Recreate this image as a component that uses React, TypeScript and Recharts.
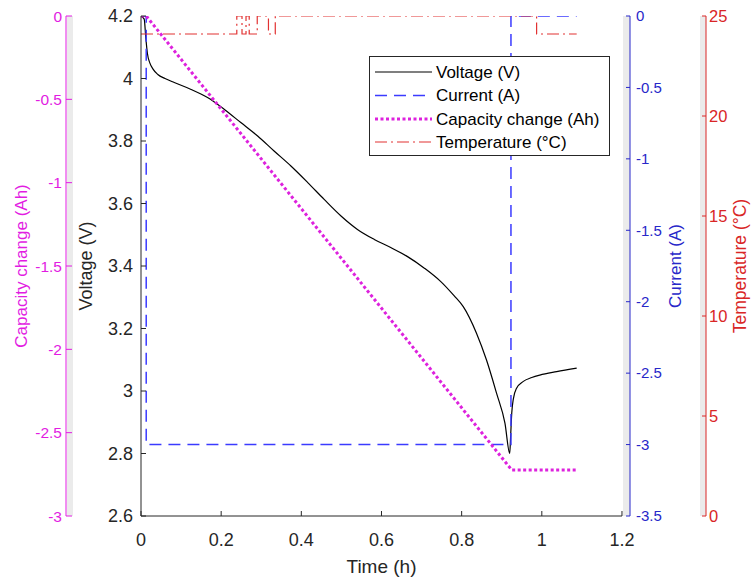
import React from 'react';
import { ComposedChart, Line, XAxis, YAxis, Legend, ReferenceLine } from 'recharts';

const timeTicks = [0, 0.2, 0.4, 0.6, 0.8, 1, 1.2];
const voltageTicks = [2.6, 2.8, 3, 3.2, 3.4, 3.6, 3.8, 4, 4.2];
const currentTicks = [0, -0.5, -1, -1.5, -2, -2.5, -3, -3.5];
const capacityTicks = [0, -0.5, -1, -1.5, -2, -2.5, -3];
const temperatureTicks = [0, 5, 10, 15, 20, 25];

const voltageTime = [0, 0.008, 0.012, 0.016, 0.022, 0.03, 0.042, 0.06, 0.083, 0.125, 0.166, 0.208, 0.249, 0.291, 0.332, 0.374, 0.416, 0.457, 0.499, 0.54, 0.582, 0.623, 0.665, 0.707, 0.748, 0.781, 0.804, 0.837, 0.862, 0.887, 0.908, 0.92, 0.922, 0.925, 0.929, 0.937, 0.953, 0.975, 0.995, 1.037, 1.087];
const voltageValues = [4.2, 4.19, 4.13, 4.08, 4.05, 4.03, 4.013, 4.0, 3.987, 3.965, 3.939, 3.901, 3.859, 3.816, 3.768, 3.72, 3.667, 3.613, 3.56, 3.517, 3.485, 3.459, 3.43, 3.393, 3.35, 3.305, 3.27, 3.185, 3.099, 2.993, 2.897, 2.8, 2.85, 2.93, 2.975, 3.009, 3.03, 3.043, 3.051, 3.062, 3.073];

const currentTime = [0, 0.013, 0.923, 1.087];
const currentValues = [0, -3.0, 0, 0];

const capacityTime = [0, 0.013, 0.925, 1.087];
const capacityValues = [0, 0, -2.724, -2.724];

const temperatureTime = [0, 0.239, 0.252, 0.262, 0.27, 0.29, 0.318, 0.335, 0.987, 1.087];
const temperatureValues = [24.1, 25, 24.1, 25, 24.1, 25, 24.1, 25, 24.1, 24.1];

const FONT = '"Liberation Sans", Arial, Helvetica, sans-serif';
const AXIS_BLACK = '#262626';
const MAGENTA_AXIS = '#e21ce2';
const BLUE_AXIS = '#2727c9';
const RED_AXIS = '#d92626';

const series = [
  { name: 'Voltage (V)', color: '#000000', width: 1.2, dash: undefined as string | undefined },
  { name: 'Current (A)', color: '#3b3bff', width: 1.5, dash: '12 7' },
  { name: 'Capacity change (Ah)', color: '#dd22dd', width: 3, dash: '3 2.5' },
  { name: 'Temperature (°C)', color: '#e23232', width: 1.2, dash: '12 4 2 4' },
];

const toData = (xs: number[], ys: number[]) => xs.map((t, i) => ({ t, v: ys[i] }));
const voltageData = toData(voltageTime, voltageValues);
const currentData = toData(currentTime, currentValues);
const capacityData = toData(capacityTime, capacityValues);
const temperatureData = toData(temperatureTime, temperatureValues);

const vLabel = (text: string, dx: number, color: string, size: number) => (props: any) => {
  const vb = props.viewBox || {};
  const cx = vb.x + dx;
  const cy = vb.y + vb.height / 2;
  return (
    <text
      x={cx}
      y={cy}
      transform={`rotate(-90 ${cx} ${cy})`}
      textAnchor="middle"
      dominantBaseline="central"
      fill={color}
      fontSize={size}
      fontFamily={FONT}
    >
      {text}
    </text>
  );
};

const xLabel = (props: any) => {
  const vb = props.viewBox || {};
  return (
    <text x={vb.x + 240.5} y={vb.y + 57} textAnchor="middle" fill={AXIS_BLACK} fontSize={19} fontFamily={FONT}>
      Time (h)
    </text>
  );
};

const LegendBox = () => {
  const rows = [16, 39.5, 63, 86];
  return (
    <svg width={241} height={100} style={{ display: 'block' }}>
      <rect x={0.5} y={0.5} width={240} height={99} fill="#ffffff" stroke={AXIS_BLACK} strokeWidth={1} />
      {series.map((s, i) => (
        <g key={s.name}>
          <line x1={6} x2={63} y1={rows[i]} y2={rows[i]} stroke={s.color} strokeWidth={s.width} strokeDasharray={s.dash} />
          <text x={67} y={rows[i]} dominantBaseline="central" fontSize={17} fontFamily={FONT} fill="#000000">
            {s.name}
          </text>
        </g>
      ))}
    </svg>
  );
};

export default function App() {
  return (
    <div style={{ position: 'absolute', left: 0, top: 0, width: 753, height: 583, background: '#ffffff' }}>
      <div style={{ position: 'absolute', left: 67, top: 16, width: 6, height: 500, background: '#ebebeb' }} />
      <div style={{ position: 'absolute', left: 623, top: 16, width: 7, height: 500, background: '#ebebeb' }} />
      <div style={{ position: 'absolute', left: 700, top: 16, width: 6, height: 500, background: '#ebebeb' }} />
      <div style={{ position: 'absolute', left: 0, top: 0 }}>
        <ComposedChart width={753} height={583} margin={{ top: 16, right: 0, bottom: 0, left: 0 }}>
          <XAxis
            type="number"
            dataKey="t"
            domain={[0, 1.22]}
            allowDataOverflow
            ticks={timeTicks}
            interval={0}
            height={67}
            axisLine={false}
            stroke={AXIS_BLACK}
            tickSize={-5}
            tickMargin={22}
            tick={{ fill: AXIS_BLACK, fontSize: 18, fontFamily: FONT }}
            label={{ content: xLabel }}
          />
          <YAxis
            yAxisId="y1voltage"
            orientation="left"
            width={75}
            type="number"
            domain={[2.6, 4.2]}
            allowDataOverflow
            ticks={voltageTicks}
            interval={0}
            stroke={AXIS_BLACK}
            tickSize={-5}
            tickMargin={13}
            tick={{ fill: AXIS_BLACK, fontSize: 18, fontFamily: FONT }}
            label={{ content: vLabel('Voltage (V)', 20, AXIS_BLACK, 18) }}
          />
          <YAxis
            yAxisId="y2capacity"
            orientation="left"
            width={66}
            type="number"
            domain={[-3, 0]}
            allowDataOverflow
            ticks={capacityTicks}
            interval={0}
            stroke={MAGENTA_AXIS}
            tickSize={-6}
            tickMargin={10}
            tick={{ fill: MAGENTA_AXIS, fontSize: 15.5, fontFamily: FONT }}
            label={{ content: vLabel('Capacity change (Ah)', 21, MAGENTA_AXIS, 17) }}
          />
          <YAxis
            yAxisId="y1current"
            orientation="right"
            width={76}
            type="number"
            domain={[-3.5, 0]}
            allowDataOverflow
            ticks={currentTicks}
            interval={0}
            stroke={BLUE_AXIS}
            tickSize={-4}
            tickMargin={10}
            tick={{ fill: BLUE_AXIS, fontSize: 15, fontFamily: FONT }}
            label={{ content: vLabel('Current (A)', 45, BLUE_AXIS, 17) }}
          />
          <YAxis
            yAxisId="y2temperature"
            orientation="right"
            width={47}
            type="number"
            domain={[0, 25]}
            allowDataOverflow
            ticks={temperatureTicks}
            interval={0}
            stroke={RED_AXIS}
            tickSize={-4}
            tickMargin={7}
            tick={{ fill: RED_AXIS, fontSize: 16.5, fontFamily: FONT }}
            label={{ content: vLabel('Temperature (°C)', 34, RED_AXIS, 17.5) }}
          />
          <ReferenceLine
            yAxisId="y1voltage"
            segment={[{ x: 0, y: 2.6 }, { x: 1.2, y: 2.6 }]}
            stroke={AXIS_BLACK}
            strokeWidth={1}
          />
          <Line
            yAxisId="y1voltage"
            data={voltageData}
            dataKey="v"
            name={series[0].name}
            type="monotone"
            stroke={series[0].color}
            strokeWidth={series[0].width}
            dot={false}
            activeDot={false}
            isAnimationActive={false}
          />
          <Line
            yAxisId="y1current"
            data={currentData}
            dataKey="v"
            name={series[1].name}
            type="stepAfter"
            stroke={series[1].color}
            strokeWidth={series[1].width}
            strokeDasharray={series[1].dash}
            dot={false}
            activeDot={false}
            isAnimationActive={false}
          />
          <Line
            yAxisId="y2capacity"
            data={capacityData}
            dataKey="v"
            name={series[2].name}
            type="linear"
            stroke={series[2].color}
            strokeWidth={series[2].width}
            strokeDasharray={series[2].dash}
            dot={false}
            activeDot={false}
            isAnimationActive={false}
          />
          <Line
            yAxisId="y2temperature"
            data={temperatureData}
            dataKey="v"
            name={series[3].name}
            type="stepAfter"
            stroke={series[3].color}
            strokeWidth={series[3].width}
            strokeDasharray={series[3].dash}
            dot={false}
            activeDot={false}
            isAnimationActive={false}
          />
          <Legend
            layout="vertical"
            align="center"
            verticalAlign="middle"
            width={241}
            height={100}
            wrapperStyle={{ left: 369, top: 56, width: 241, height: 100 }}
            content={() => <LegendBox />}
          />
        </ComposedChart>
      </div>
    </div>
  );
}
